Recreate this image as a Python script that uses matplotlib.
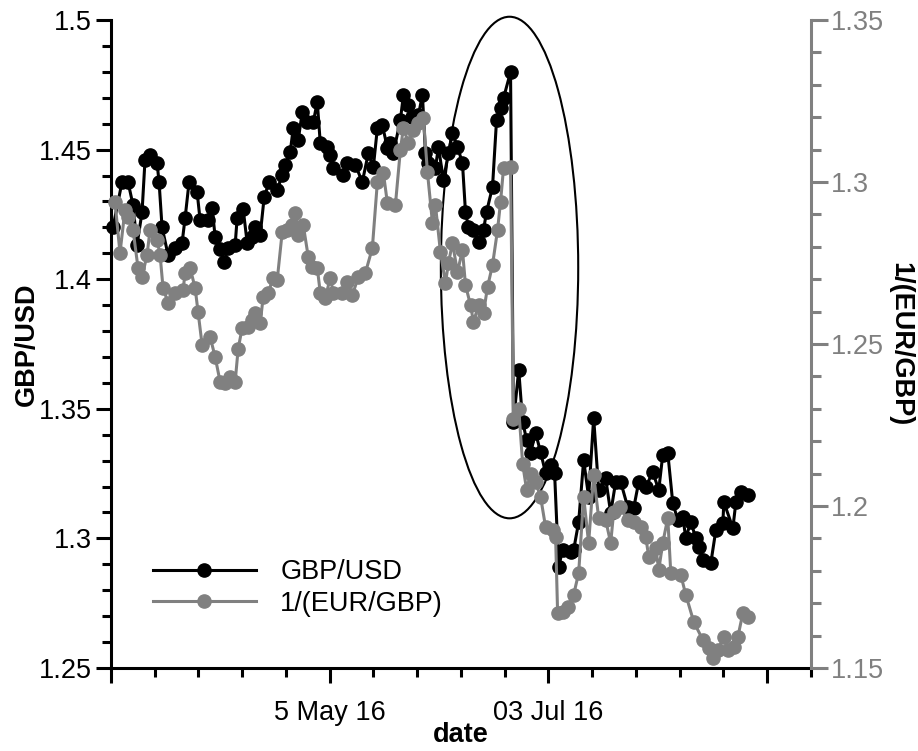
import matplotlib
matplotlib.use("Agg")
import matplotlib.pyplot as plt
from matplotlib.patches import Ellipse
from matplotlib.ticker import MultipleLocator, FuncFormatter

plt.rcParams["font.family"] = ["Liberation Sans", "DejaVu Sans"]

# GBP/USD (left axis), x = observation position on the date axis
usd_x = [0.46, 2.52, 3.89, 5.04, 5.95, 7.10, 7.78, 8.93, 10.53, 10.99, 11.67, 13.05,
         14.65, 16.25, 16.94, 17.85, 19.69, 20.37, 22.20, 23.12, 23.81, 24.95, 25.87,
         26.78, 28.38, 28.84, 30.21, 31.13, 32.27, 32.96, 34.11, 35.02, 36.17, 38.00,
         39.14, 39.83, 40.97, 41.66, 42.80, 43.72, 44.86, 46.24, 47.15, 47.84, 49.44,
         50.13, 50.82, 53.11, 54.02, 55.85, 57.45, 58.83, 59.97, 60.89, 62.03, 63.18,
         63.86, 64.55, 66.15, 66.84, 67.98, 68.90, 70.27, 71.19, 71.88, 72.56, 74.16,
         74.85, 75.99, 77.14, 78.06, 79.20, 80.34, 81.03, 81.72, 82.86, 84.01, 85.15,
         85.84, 87.21, 88.13, 89.04, 89.73, 91.33, 92.0, 93.2, 94.1, 95.0, 95.9, 97.05,
         98.2, 99.34, 100.49, 101.4, 102.32, 103.23, 105.06, 105.75, 106.9, 108.04,
         109.18, 110.33, 111.47, 113.07, 114.22, 115.36, 116.51, 118.11, 119.48,
         120.63, 122.23, 123.83, 125.21, 126.12, 127.27, 128.41, 129.56, 130.7,
         131.39, 132.53, 133.68, 134.37, 135.28, 137.11, 138.26, 139.86, 140.09,
         142.15, 142.84, 143.98, 145.59]
usd_y = [1.420, 1.4375, 1.4375, 1.4286, 1.4132, 1.4259, 1.446, 1.4479, 1.4448, 1.4375,
         1.4201, 1.4093, 1.412, 1.414, 1.4236, 1.4375, 1.4336, 1.4228, 1.4228, 1.4275,
         1.4163, 1.4117, 1.4066, 1.412, 1.4132, 1.4236, 1.4271, 1.414, 1.4163, 1.4201,
         1.4171, 1.4317, 1.4375, 1.4344, 1.4402, 1.4441, 1.4491, 1.4583, 1.4537,
         1.4645, 1.4606, 1.4606, 1.4684, 1.4525, 1.451, 1.4479, 1.4429, 1.4402,
         1.4448, 1.4441, 1.4375, 1.4487, 1.4433, 1.4583, 1.4595, 1.4506, 1.4525,
         1.4487, 1.4614, 1.4711, 1.4672, 1.4626, 1.4633, 1.4711, 1.4487, 1.4448,
         1.4429, 1.451, 1.4383, 1.4487, 1.4564, 1.451, 1.4448, 1.4259, 1.420, 1.419,
         1.4144, 1.419, 1.4259, 1.4356, 1.4614, 1.466, 1.4699, 1.4799, 1.345, 1.365,
         1.345, 1.338, 1.333, 1.3407, 1.3333, 1.3252, 1.3283, 1.3252, 1.289, 1.2955,
         1.2948, 1.2955, 1.3063, 1.3302, 1.316, 1.3465, 1.3187, 1.3233, 1.3098,
         1.3218, 1.3218, 1.3121, 1.3117, 1.3218, 1.3198, 1.3256, 1.3187, 1.3322,
         1.333, 1.3137, 1.3071, 1.3083, 1.3002, 1.3063, 1.3002, 1.2967, 1.2917,
         1.2905, 1.3032, 1.3059, 1.314, 1.304, 1.314, 1.3179, 1.3167]

# 1/(EUR/GBP) (right axis)
eur_x = [0.92, 2.06, 3.20, 3.89, 5.04, 6.18, 7.10, 8.24, 8.93, 10.53, 11.22, 11.9,
         13.05, 14.65, 16.48, 16.94, 18.08, 19.23, 19.91, 20.83, 22.66, 23.81, 24.95,
         26.1, 27.24, 28.38, 29.07, 29.99, 31.36, 32.27, 32.96, 34.11, 34.79, 35.94,
         37.08, 38.0, 39.14, 40.29, 41.43, 42.12, 42.8, 43.95, 45.09, 46.01, 47.15,
         47.84, 48.98, 50.13, 50.82, 52.88, 54.02, 55.17, 56.54, 58.14, 59.74, 60.89,
         62.26, 63.18, 65.01, 66.15, 66.84, 67.98, 69.13, 70.27, 71.42, 72.33, 73.48,
         74.16, 75.31, 76.45, 77.14, 78.06, 79.2, 80.34, 81.03, 82.18, 82.86, 84.01,
         85.15, 86.07, 87.21, 88.36, 89.04, 89.73, 91.33, 92.0, 93.2, 94.1, 95.0, 95.9,
         97.05, 98.2, 99.34, 100.95, 101.63, 102.09, 103.23, 104.38, 105.75, 106.9,
         108.04, 109.18, 110.33, 111.47, 113.07, 114.22, 114.91, 116.28, 118.11,
         119.48, 121.08, 122.23, 122.92, 124.52, 125.21, 126.12, 127.27, 127.96,
         130.25, 131.39, 133.22, 135.28, 136.66, 137.57, 138.72, 140.09, 141.01,
         142.38, 143.29, 144.44, 145.59]
eur_y = [1.2938, 1.2781, 1.2914, 1.2892, 1.2852, 1.2735, 1.2707, 1.2775, 1.2852, 1.2821,
         1.2775, 1.2673, 1.2627, 1.2658, 1.2667, 1.2719, 1.2735, 1.2673, 1.2599,
         1.2497, 1.2522, 1.246, 1.2383, 1.238, 1.2398, 1.2383, 1.2485, 1.255, 1.2553,
         1.2574, 1.2596, 1.2565, 1.2645, 1.2658, 1.2704, 1.2698, 1.2846, 1.2852,
         1.2867, 1.2904, 1.2837, 1.2867, 1.2769, 1.2738, 1.2735, 1.2658, 1.2642,
         1.2704, 1.2658, 1.2658, 1.2691, 1.2651, 1.2707, 1.2719, 1.2796, 1.300,
         1.3028, 1.2935, 1.2929, 1.3099, 1.3167, 1.312, 1.3161, 1.3182, 1.3198,
         1.3031, 1.2874, 1.2929, 1.2784, 1.2688, 1.275, 1.2812, 1.2722, 1.279, 1.2682,
         1.262, 1.2568, 1.262, 1.2596, 1.2676, 1.2744, 1.2852, 1.2938, 1.3043, 1.3046,
         1.227, 1.230, 1.213, 1.205, 1.210, 1.2074, 1.2028, 1.1935, 1.1926, 1.1905,
         1.167, 1.1673, 1.1689, 1.1726, 1.1793, 1.2028, 1.1886, 1.2096, 1.1963,
         1.1957, 1.1886, 1.1982, 1.1997, 1.1957, 1.1951, 1.1935, 1.1905, 1.1843,
         1.1871, 1.1803, 1.1886, 1.1963, 1.1793, 1.1787, 1.1726, 1.1642, 1.1587,
         1.1562, 1.1531, 1.1556, 1.1596, 1.1556, 1.1565, 1.1596, 1.167, 1.1658]

date_ticks = [0, 50, 100, 150]
date_labels = ["", "5 May 16", "03 Jul 16", ""]

FS = 19.5

fig = plt.figure(figsize=(9.18, 7.51), dpi=100)
ax = fig.add_axes([0.1209, 0.1105, 0.7625, 0.8629])
ax2 = ax.twinx()

ax.plot(usd_x, usd_y, "-o", color="black", lw=2.2, ms=9.5, label="GBP/USD", clip_on=False)
ax2.plot(eur_x, eur_y, "-o", color="#808080", lw=2.2, ms=9.5, label="1/(EUR/GBP)",
         clip_on=False)

# highlight the referendum drop
ax.add_patch(Ellipse((91.1, 1.4045), 31.4, 0.1935, fill=False, ec="black", lw=1.5,
                     clip_on=False))

ax.set_xlim(0, 160)
ax.set_ylim(1.25, 1.5)
ax2.set_ylim(1.15, 1.35)

fmt = FuncFormatter(lambda v, p: "%g" % round(v, 3))
ax.yaxis.set_major_locator(MultipleLocator(0.05))
ax.yaxis.set_minor_locator(MultipleLocator(0.01))
ax.yaxis.set_major_formatter(fmt)
ax2.yaxis.set_major_locator(MultipleLocator(0.05))
ax2.yaxis.set_minor_locator(MultipleLocator(0.01))
ax2.yaxis.set_major_formatter(fmt)

ax.set_xticks(date_ticks)
ax.set_xticklabels(date_labels)
ax.xaxis.set_minor_locator(MultipleLocator(10))

ax.spines["top"].set_visible(False)
ax2.spines["top"].set_visible(False)
ax.spines["right"].set_visible(False)
ax2.spines["left"].set_visible(False)
ax2.spines["bottom"].set_visible(False)
for s in ["left", "bottom"]:
    ax.spines[s].set_linewidth(2.2)
ax2.spines["right"].set_linewidth(2.2)
ax2.spines["right"].set_color("#808080")

ax.tick_params(axis="both", which="major", length=11, width=2.2, labelsize=FS, pad=3)
ax.tick_params(axis="both", which="minor", length=6.5, width=2.2)
ax.tick_params(axis="x", which="major", pad=12)
ax2.tick_params(axis="y", which="major", length=12, width=2.2, labelsize=FS,
                colors="#808080", pad=2)
ax2.tick_params(axis="y", which="minor", length=7.5, width=2.2, colors="#808080")

ax.set_ylabel("GBP/USD", fontsize=FS, fontweight="bold")
ax.yaxis.set_label_coords(-0.102, 0.5)
ax.set_xlabel("date", fontsize=FS, fontweight="bold")
ax.xaxis.set_label_coords(0.5, -0.083)
ax2.set_ylabel("1/(EUR/GBP)", fontsize=FS, fontweight="bold", rotation=270)
ax2.yaxis.set_label_coords(1.146, 0.5)

h1, l1 = ax.get_legend_handles_labels()
h2, l2 = ax2.get_legend_handles_labels()
ax2.legend(h1 + h2, l1 + l2, loc="upper left", bbox_to_anchor=(0.06, 0.168),
           frameon=False, fontsize=FS, handlelength=3.8, handletextpad=0.9,
           labelspacing=0.2, borderpad=0, borderaxespad=0)

fig.savefig("out.png", dpi=100)
